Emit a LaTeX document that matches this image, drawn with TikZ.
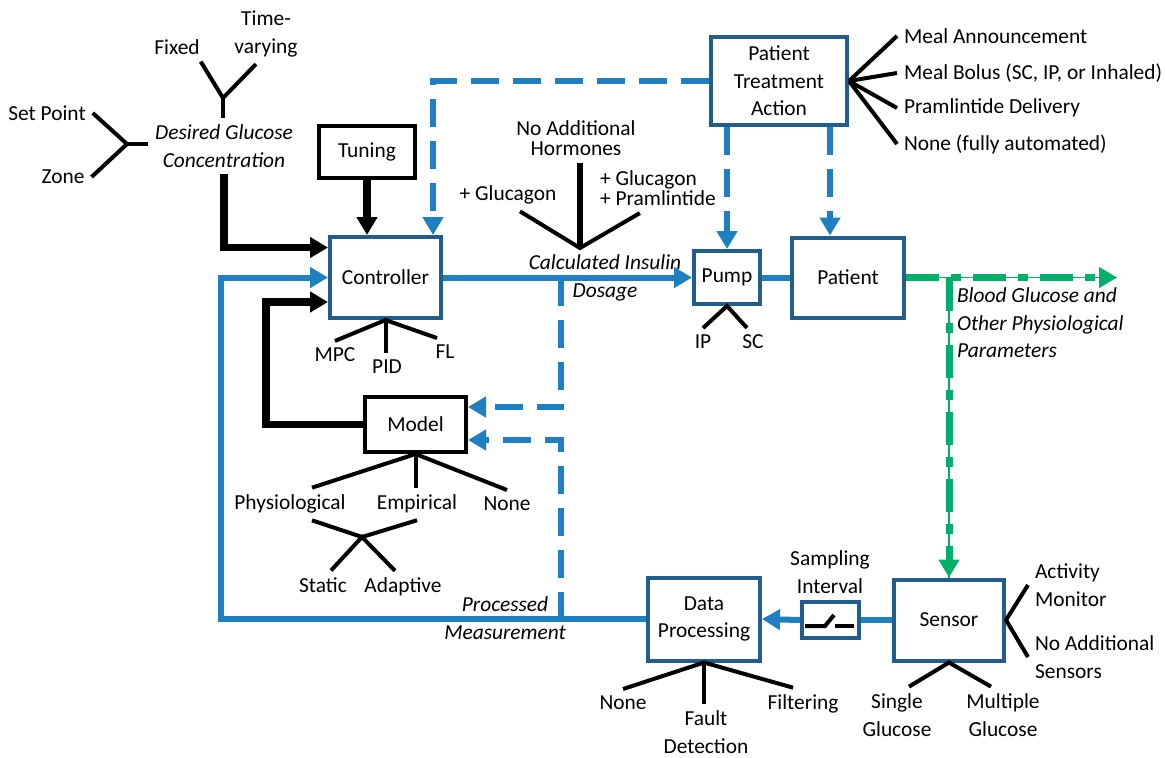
\documentclass[tikz,border=0pt]{standalone}
\usepackage{fontspec}
\setmainfont{Carlito}
\usetikzlibrary{arrows.meta,calc}

\definecolor{lineblue}{RGB}{31,128,193}
\definecolor{boxblue}{RGB}{33,94,142}
\definecolor{sgreen}{RGB}{0,176,105}

\begin{document}
\begin{tikzpicture}[x=0.5pt,y=-0.5pt,
        font=\fontsize{10.7}{13.8}\selectfont,
        every node/.style={align=center},
        bbox/.style={draw=boxblue,line width=2pt,fill=white,inner sep=0pt},
        kbox/.style={draw=black,line width=2pt,fill=white,inner sep=0pt},
        fwd/.style={-{Triangle[length=9pt,width=10pt]}},
        blink/.style={draw=lineblue,line width=3pt},
        flow/.style={blink,fwd},
        dflow/.style={flow,dash pattern=on 14pt off 7pt},
        heavy/.style={draw=black,line width=3.75pt,fwd},
        fork/.style={draw=black,line width=2pt},
        gflow/.style={draw=sgreen,line width=3.5pt,fwd,dash pattern=on 16.5pt off 6pt on 5pt off 6pt,
            preaction={draw=sgreen,line width=0.8pt,solid,arrows=-}},
        snug/.style={font=\fontsize{10.7}{10}\selectfont},
        note/.style={font=\fontsize{10.7}{13.8}\selectfont\itshape}]
            \useasboundingbox (0,0) rectangle (1165,757);

            \node[kbox,minimum width=48pt,minimum height=26pt] (tune) at (367,152) {Tuning};
            \node[bbox,minimum width=55.5pt,minimum height=40.5pt] (ctrl) at (385.5,277.5) {Controller};
            \node[kbox,minimum width=50.5pt,minimum height=27.5pt] (model) at (415.5,424.5) {Model};
            \node[bbox,minimum width=33pt,minimum height=26.5pt] (pump) at (727,277.5) {Pump};
            \node[bbox,minimum width=56pt,minimum height=40pt] (patient) at (848,277.5) {Patient};
            \node[bbox,minimum width=68pt,minimum height=44pt] (pta) at (779,81) {Patient\\Treatment\\Action};
            \node[bbox,minimum width=55pt,minimum height=40.5pt] (sensor) at (949,620) {Sensor};
            \node[bbox,minimum width=56pt,minimum height=41.5pt] (dproc) at (704,619) {Data\\Processing};
            \node[bbox,minimum width=28.5pt,minimum height=18pt] (samp) at (830.5,620) {};

            \node (fixed) at (177,47) {Fixed};
            \node (timev) at (266,34) {Time-\\varying};
            \node (setpt) at (47,113) {Set Point};
            \node (zone) at (63,177) {Zone};
            \node[note] (desired) at (224,146) {Desired Glucose\\Concentration};
            \node (mpc) at (335,355) {MPC};
            \node (pid) at (387,367) {PID};
            \node (fl) at (445,352) {FL};
            \node (phys) at (290,504) {Physiological};
            \node (emp) at (417,504) {Empirical};
            \node (mnone) at (507,504) {None};
            \node (static) at (323,585) {Static};
            \node (adapt) at (403,587) {Adaptive};
            \node[snug] (hnone) at (576,138) {No Additional\\Hormones};
            \node (glu) at (508,195) {+ Glucagon};
            \node[snug,anchor=west,align=left] (glupram) at (593,188.5) {+ Glucagon\\+ Pramlintide};
            \node[note] (dose) at (605,278) {Calculated Insulin\\Dosage};
            \node (ip) at (703,342) {IP};
            \node (sc) at (753,342) {SC};
            \node[note,anchor=west,align=left] (bgtext) at (950,323) {Blood Glucose and\\Other Physiological\\Parameters};
            \node (sampl) at (830,572) {Sampling\\Interval};
            \node[anchor=west,align=left] (actv) at (1028,585) {Activity\\Monitor};
            \node[anchor=west,align=left] (noadd) at (1028,657) {No Additional\\Sensors};
            \node (single) at (897,715) {Single\\Glucose};
            \node (multi) at (1003,715) {Multiple\\Glucose};
            \node (dnone) at (623,703) {None};
            \node (fault) at (706,732) {Fault\\Detection};
            \node (filt) at (803,704) {Filtering};
            \node[note] (procm) at (505,618) {Processed\\Measurement};

            \foreach \y/\t [count=\i] in {36/Meal Announcement, 73/{Meal Bolus (SC, IP, or Inhaled)}, 108/Pramlintide Delivery, 144/None (fully automated)} {
                \node[anchor=west] (act\i) at (897,\y) {\t};
                \draw[fork] (pta.east) -- (act\i.west);
            }

            \coordinate (dtop) at (223,98);
            \coordinate (dleft) at (127,144);
            \coordinate (mv) at (362,537);
            \coordinate (hv) at (580,248);
            \draw[fork] ([xshift=-3pt]fixed.south east) -- (dtop) -- ([xshift=-5pt]timev.south);
            \draw[fork] (dtop) -- (dtop |- desired.north);
            \draw[fork] (setpt.east) -- (dleft) -- (zone.east);
            \draw[fork] (dleft) -- (dleft -| desired.west);
            \draw[fork] (mpc.north) -- (ctrl.south) -- ([xshift=-4pt]fl.north);
            \draw[fork] (ctrl.south) -- (ctrl.south |- pid.north);
            \draw[fork] ([xshift=11pt]phys.north) -- (model.south) -- (mnone.north);
            \draw[fork] (model.south) -- (model.south |- emp.north);
            \draw[fork] ([xshift=11pt]phys.south) -- (mv) -- (emp.south);
            \draw[fork] ([xshift=4pt]static.north) -- (mv) -- ([xshift=-4pt]adapt.north);
            \draw[fork,line width=3pt] (hv |- hnone.south) -- (hv);
            \draw[fork] ([xshift=6pt]glu.south) -- (hv) -- ([xshift=-9pt]glupram.south);
            \draw[fork] (ip.north) -- (pump.south) -- ([xshift=-3pt]sc.north);
            \draw[fork] (dnone.north) -- (dproc.south) -- ([xshift=-5pt]filt.north);
            \draw[fork] (dproc.south) -- (dproc.south |- fault.north);
            \draw[fork] ([xshift=6pt]single.north) -- (sensor.south) -- ([xshift=-6pt]multi.north);
            \draw[fork] (actv.west) -- (sensor.east) -- (noadd.west);

            \draw[fork,line width=2pt] ([shift={(-25.5,6)}]samp.center) -- ++(20,0) -- ++(9,-11);
            \draw[fork,line width=2pt] ([shift={(4.5,6)}]samp.center) -- ++(19,0);

            \coordinate (mloop) at (266,302);
            \coordinate (fbl) at (221,277.5);
            \coordinate (tapa) at (561,277.5);
            \coordinate (tapb) at (561,620);
            \coordinate (bgout) at (1117,277.5);
            \coordinate (ptain) at ([xshift=-9pt]patient.north);

            \draw[heavy] (desired.south) |- ([yshift=15pt]ctrl.west);
            \draw[heavy] (tune.south) -- (tune.south |- ctrl.north);
            \draw[heavy] (model.west) -| (mloop) -- ([yshift=-12.25pt]ctrl.west);
            \draw[flow] (ctrl.east) -- (pump.west);
            \draw[blink] (pump.east) -- (patient.west);
            \draw[dflow] (pta.west) -| ([xshift=23.75pt]ctrl.north);
            \draw[dflow] (pta.south -| pump.north) -- (pump.north);
            \draw[dflow] (ptain |- pta.south) -- (ptain);
            \draw[dflow] (tapa) |- ([yshift=8.75pt]model.east);
            \draw[dflow] (tapb) |- ([yshift=-7.75pt]model.east);
            \draw[blink] (sensor.west) -- (samp.east);
            \draw[flow] (samp.west) -- (dproc.east);
            \draw[flow] (dproc.west) -| (fbl) -- (ctrl.west);
            \draw[gflow] (patient.east) -- (bgout);
            \draw[gflow] (sensor.north |- patient.east) -- (sensor.north);
        \end{tikzpicture}
\end{document}
